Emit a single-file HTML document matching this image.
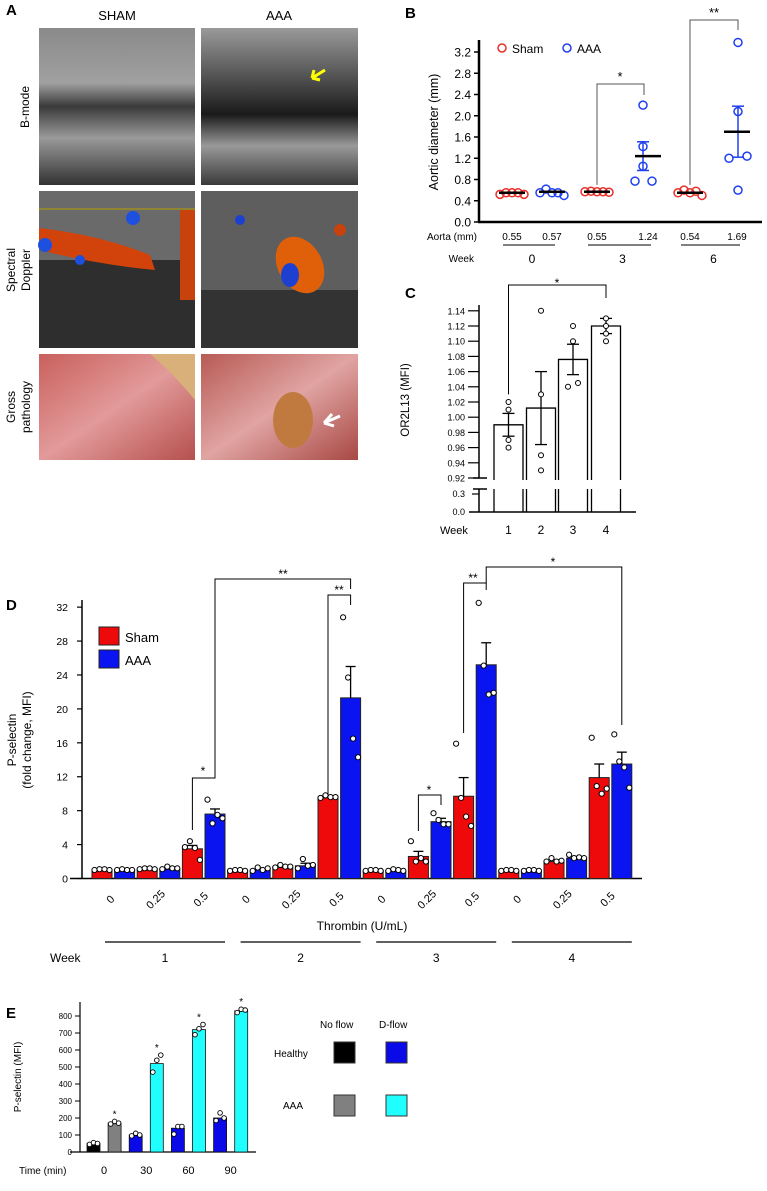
<!DOCTYPE html>
<html><head><meta charset="utf-8"><style>
body{margin:0;background:#fff}
svg{display:block;font-family:"Liberation Sans",Arial,sans-serif}
</style></head><body>
<svg id="fig" width="767" height="1191" viewBox="0 0 767 1191" xmlns="http://www.w3.org/2000/svg">
<defs>
<linearGradient id="bm1" x1="0" y1="0" x2="0" y2="1"><stop offset="0" stop-color="#8a8a8a"/><stop offset="0.35" stop-color="#a0a0a0"/><stop offset="0.5" stop-color="#3a3a3a"/><stop offset="0.7" stop-color="#9a9a9a"/><stop offset="1" stop-color="#333"/></linearGradient>
<linearGradient id="bm2" x1="0" y1="0" x2="0" y2="1"><stop offset="0" stop-color="#9a9a9a"/><stop offset="0.3" stop-color="#555"/><stop offset="0.55" stop-color="#1a1a1a"/><stop offset="0.75" stop-color="#999"/><stop offset="1" stop-color="#3a3a3a"/></linearGradient>
<linearGradient id="gp1" x1="0" y1="0" x2="1" y2="1"><stop offset="0" stop-color="#c9605c"/><stop offset="0.5" stop-color="#e29a9a"/><stop offset="1" stop-color="#b5504e"/></linearGradient>
<linearGradient id="gp2" x1="0" y1="0" x2="1" y2="1"><stop offset="0" stop-color="#b85a55"/><stop offset="0.5" stop-color="#e0a4a2"/><stop offset="1" stop-color="#a84844"/></linearGradient>
</defs>
<g id="panelA">
<text x="6" y="15" font-size="15" font-weight="bold">A</text>
<text x="117" y="20" font-size="13" text-anchor="middle">SHAM</text>
<text x="279" y="20" font-size="13" text-anchor="middle">AAA</text>
<text transform="translate(29,107) rotate(-90)" font-size="12" text-anchor="middle">B-mode</text>
<text transform="translate(15,270) rotate(-90)" font-size="12" text-anchor="middle">Spectral</text>
<text transform="translate(30,270) rotate(-90)" font-size="12" text-anchor="middle">Doppler</text>
<text transform="translate(15,407) rotate(-90)" font-size="12" text-anchor="middle">Gross</text>
<text transform="translate(30,407) rotate(-90)" font-size="12" text-anchor="middle">pathology</text>
<rect x="39" y="28" width="156" height="157" fill="url(#bm1)"/>
<rect x="201" y="28" width="157" height="157" fill="url(#bm2)"/>
<path d="M312 78 L325 70 M312 78 L320 80 M312 78 L314 70" stroke="#ff0" stroke-width="3"/>
<rect x="39" y="191" width="156" height="157" fill="#6a6a6a"/>
<rect x="39" y="260" width="156" height="88" fill="#2e2e2e"/>
<path d="M39 228 Q100 235 150 255 L155 270 Q100 265 39 250 Z" fill="#d2430c"/>
<rect x="180" y="210" width="15" height="90" fill="#c8420e"/>
<circle cx="45" cy="245" r="7" fill="#1e50e0"/><circle cx="133" cy="218" r="7" fill="#1e50e0"/><circle cx="80" cy="260" r="5" fill="#1e50e0"/>
<line x1="39" y1="209" x2="195" y2="209" stroke="#b5a000"/>
<rect x="201" y="191" width="157" height="157" fill="#5e5e5e"/>
<rect x="201" y="290" width="157" height="58" fill="#333"/>
<ellipse cx="300" cy="265" rx="22" ry="30" transform="rotate(-30 300 265)" fill="#e0600a"/>
<ellipse cx="290" cy="275" rx="9" ry="12" fill="#1e40d0"/><circle cx="240" cy="220" r="5" fill="#1e40d0"/><circle cx="340" cy="230" r="6" fill="#c8420e"/>
<rect x="39" y="354" width="156" height="106" fill="url(#gp1)"/>
<path d="M150 354 L195 354 L195 400 Q170 370 150 354Z" fill="#d9b07a"/>
<rect x="201" y="354" width="157" height="106" fill="url(#gp2)"/>
<ellipse cx="293" cy="420" rx="20" ry="28" fill="#c07a40"/>
<path d="M340 416 L324 423 M324 423 L332 414 M324 423 L334 426" stroke="#fff" stroke-width="3"/>
</g>
<g id="gB"></g><g id="gC"></g><g id="gD"></g><g id="gE"></g>
</svg>
<script>
// ---------- Panel B data ----------
const bGroups = ['Sham', 'AAA', 'Sham', 'AAA', 'Sham', 'AAA'];
const bPoints = [[0.52,0.55,0.55,0.55,0.52],[0.55,0.62,0.55,0.55,0.5],[0.57,0.58,0.57,0.57,0.56],[2.2,1.42,1.05,0.77,0.77],[0.55,0.6,0.55,0.58,0.5],[3.38,2.08,1.24,1.2,0.6]];
const bMeans = [0.55, 0.57, 0.57, 1.24, 0.55, 1.70];
const bSem = [0, 0, 0, 0.27, 0, 0.48];
const bAortaLabels = ['0.55','0.57','0.55','1.24','0.54','1.69'];
const bWeeks = ['0','3','6'];
const bTicks = [0,0.4,0.8,1.2,1.6,2.0,2.4,2.8,3.2];
// ---------- Panel C data ----------
const cWeeks = ['1','2','3','4'];
const cMeans = [0.99, 1.012, 1.076, 1.12];
const cSem = [0.015, 0.048, 0.02, 0.01];
const cPoints = [[1.02,1.01,0.97,0.96],[1.14,1.03,0.95,0.93],[1.12,1.10,1.04,1.045],[1.13,1.12,1.11,1.10]];
const cTicks = [0.92,0.94,0.96,0.98,1.00,1.02,1.04,1.06,1.08,1.10,1.12,1.14];
// ---------- Panel D data (week x conc x [sham, aaa]) ----------
const dConc = ['0','0.25','0.5'];
const dWeeks = ['1','2','3','4'];
const dMeans = [1.0,1.0,1.1,1.1,3.5,7.6, 0.9,1.0,1.3,1.5,9.6,21.3, 0.9,0.9,2.6,6.7,9.7,25.2, 0.9,0.9,2.0,2.4,11.9,13.5];
const dSem = [0.1,0.1,0.1,0.1,0.4,0.6, 0.1,0.1,0.1,0.3,0.1,3.7, 0.1,0.1,0.6,0.4,2.2,2.6, 0.1,0.1,0.2,0.2,1.6,1.4];
const dPoints = [[1,1.1,1.1,1],[1,1.1,1,1],[1.1,1.2,1.2,1.1],[1.1,1.4,1.2,1.2],[3.7,4.4,3.6,2.2],[9.3,6.5,7.5,7.1],
[0.9,1,1,0.9],[0.9,1.3,1,1.2],[1.3,1.6,1.4,1.4],[1.2,2.3,1.5,1.6],[9.5,9.8,9.6,9.6],[30.8,23.7,16.5,14.3],
[0.9,1,1,0.9],[0.9,1.1,1,0.9],[4.4,2.0,2.4,2.0],[7.7,6.9,6.4,6.4],[15.9,9.5,7.3,6.2],[32.5,25.1,21.7,21.9],
[0.9,1,1,0.9],[0.9,1,1,0.9],[2.0,2.4,2.0,2.1],[2.8,2.4,2.5,2.4],[16.6,10.9,10.0,10.6],[17.0,13.8,13.1,10.7]];
const dTicks = [0,4,8,12,16,20,24,28,32];
// ---------- Panel E data ----------
const eTimes = ['0','30','60','90'];
const eMeans = [50,170,100,520,140,720,200,830];
const ePoints = [[45,55,50],[165,180,170],[95,110,100],[470,540,570],[105,150,150],[690,725,750],[185,230,200],[820,840,835]];
const eStar = [false,true,false,true,false,true,false,true];
const eTicks = [0,100,200,300,400,500,600,700,800];

const NS='http://www.w3.org/2000/svg';
function mk(parent,tag,attrs,txt){const e=document.createElementNS(NS,tag);for(const k in attrs)e.setAttribute(k,attrs[k]);if(txt!==undefined)e.textContent=txt;parent.appendChild(e);return e;}
function ln(p,x1,y1,x2,y2,w){return mk(p,'line',{x1,y1,x2,y2,stroke:'#000','stroke-width':w||1});}

// ===== Panel B =====
(function(){
const g=document.getElementById('gB');
const yB=v=>222-v*53.125;
const xs=[512,552,597,648,690,737];
const jit=[[-12,-6,0,6,12],[-12,-6,0,6,12],[-12,-6,0,6,12],[-5,-5,-5,-13,4],[-12,-6,0,6,12],[1,1,10,-8,1]];
const ebx=[0,0,0,-5,0,1];
let t=mk(g,'text',{x:405,y:18,'font-size':15,'font-weight':'bold'},'B');


let a=ln(g,479,40,479,222,2.5);
a=ln(g,478,222,762,222,2.5);
bTicks.forEach(v=>{ln(g,474,yB(v),479,yB(v),1.5);
 const tt=mk(g,'text',{x:471,y:yB(v)+4.5,'font-size':12,'text-anchor':'end'},v.toFixed(1));
 });
t=mk(g,'text',{transform:'translate(438,132) rotate(-90)','font-size':12.5,'text-anchor':'middle'},'Aortic diameter (mm)');

bPoints.forEach((pts,i)=>{const col=bGroups[i]==='Sham'?'#e8302a':'#2040f0';
 pts.forEach((v,j)=>{const c=mk(g,'circle',{cx:xs[i]+jit[i][j],cy:yB(v),r:4,fill:'none',stroke:col,'stroke-width':1.5});
  });
 const ex=xs[i]+ebx[i];
 if(bSem[i]>0){ln(g,ex,yB(bMeans[i]+bSem[i]),ex,yB(bMeans[i]-bSem[i]),1.5).setAttribute('stroke',col);
  ln(g,ex-6,yB(bMeans[i]+bSem[i]),ex+6,yB(bMeans[i]+bSem[i]),1.5).setAttribute('stroke',col);
  ln(g,ex-6,yB(bMeans[i]-bSem[i]),ex+6,yB(bMeans[i]-bSem[i]),1.5).setAttribute('stroke',col);}
 const m=ln(g,xs[i]-13,yB(bMeans[i]),xs[i]+13,yB(bMeans[i]),2.5);
 
 const al=mk(g,'text',{x:xs[i],y:240,'font-size':10,'text-anchor':'middle'},bAortaLabels[i]);
 
});
mk(g,'text',{x:477,y:240,'font-size':10,'text-anchor':'end'},'Aorta (mm)');
mk(g,'text',{x:474,y:262,'font-size':10,'text-anchor':'end'},'Week');
bWeeks.forEach((w,k)=>{const x1=xs[2*k]-9,x2=xs[2*k+1]+3;ln(g,x1,245,x2,245,1);
 const wl=mk(g,'text',{x:(xs[2*k]+xs[2*k+1])/2,y:263,'font-size':12,'text-anchor':'middle'},w);
 });
let lg=mk(g,'circle',{cx:502,cy:48,r:4,fill:'none',stroke:'#e8302a','stroke-width':1.5});

mk(g,'text',{x:512,y:53,'font-size':12},'Sham');
lg=mk(g,'circle',{cx:567,cy:48,r:4,fill:'none',stroke:'#2040f0','stroke-width':1.5});

mk(g,'text',{x:577,y:53,'font-size':12},'AAA');
const p=mk(g,'path',{d:`M597 ${yB(0.7)} V84 H644 V95`,fill:'none',stroke:'#555','stroke-width':1});

mk(g,'text',{x:620,y:81,'font-size':13,'text-anchor':'middle'},'*');
mk(g,'path',{d:`M690 ${yB(0.7)} V20 H738 V30`,fill:'none',stroke:'#555','stroke-width':1});
mk(g,'text',{x:714,y:17,'font-size':13,'text-anchor':'middle'},'**');
})();

// ===== Panel C =====
(function(){
const g=document.getElementById('gC');
const yC=v=>478-(v-0.92)/0.02*15.2;
const xs=[508.5,541,573,606];
let t=mk(g,'text',{x:405,y:298,'font-size':15,'font-weight':'bold'},'C');

ln(g,479,305,479,478,1.5);ln(g,479,489,479,512,1.5);
ln(g,469,512,636,512,1.5);
ln(g,473,478,487,478,1.5);ln(g,473,489,487,489,1.5);
cTicks.forEach(v=>{ln(g,468,yC(v),479,yC(v),1.2);
 const tt=mk(g,'text',{x:465,y:yC(v)+3.5,'font-size':9,'text-anchor':'end'},v.toFixed(2));
 });
ln(g,472,494,479,494,1.2);
mk(g,'text',{x:465,y:497,'font-size':9,'text-anchor':'end'},'0.3');
mk(g,'text',{x:465,y:515,'font-size':9,'text-anchor':'end'},'0.0');
t=mk(g,'text',{transform:'translate(409,400) rotate(-90)','font-size':11.5,'text-anchor':'middle'},'OR2L13 (MFI)');

cMeans.forEach((v,i)=>{const x=xs[i]-14.5,w=29,top=yC(v);
 const b=mk(g,'path',{d:`M${x} 480 V${top} H${x+w} V480 M${x} 489 V512 M${x+w} 489 V512`,fill:'none',stroke:'#000','stroke-width':1.3});
 
 ln(g,xs[i],yC(v+cSem[i]),xs[i],yC(v-cSem[i]),1.3);
 ln(g,xs[i]-6,yC(v+cSem[i]),xs[i]+6,yC(v+cSem[i]),1.3);
 ln(g,xs[i]-6,yC(v-cSem[i]),xs[i]+6,yC(v-cSem[i]),1.3);
 cPoints[i].forEach((pv,j)=>{const off=(i===2&&j>=2)?(j===2?-5:5):0;
  const c=mk(g,'circle',{cx:xs[i]+off,cy:yC(pv),r:2.5,fill:'#fff',stroke:'#000','stroke-width':1});
  });
 const wl=mk(g,'text',{x:xs[i],y:534,'font-size':12,'text-anchor':'middle'},cWeeks[i]);
 
});
mk(g,'text',{x:440,y:534,'font-size':11},'Week');
const s=mk(g,'path',{d:`M${xs[0]} ${yC(1.03)} V285 H${xs[3]} V298`,fill:'none',stroke:'#000','stroke-width':1});

mk(g,'text',{x:557,y:287,'font-size':12,'text-anchor':'middle'},'*');
})();

// ===== Panel D =====
(function(){
const g=document.getElementById('gD');
const yD=v=>878.5-v*8.48;
const xD=i=>92+i*22.6;
let t=mk(g,'text',{x:6,y:610,'font-size':15,'font-weight':'bold'},'D');

ln(g,82,600,82,879,1.5);ln(g,70,878.5,642,878.5,1.5);
dTicks.forEach(v=>{ln(g,77,yD(v),82,yD(v),1.2);
 const tt=mk(g,'text',{x:68,y:yD(v)+4,'font-size':10.5,'text-anchor':'end'},String(v));
 });
t=mk(g,'text',{transform:'translate(16,740) rotate(-90)','font-size':12,'text-anchor':'middle'},'P-selectin');

mk(g,'text',{transform:'translate(31,740) rotate(-90)','font-size':12,'text-anchor':'middle'},'(fold change, MFI)');
dMeans.forEach((v,i)=>{const x=xD(i),col=i%2?'#0a14f0':'#ee0a0a',cx=x+10;
 const b=mk(g,'rect',{x,y:yD(v),width:20,height:878.5-yD(v),fill:col,stroke:'#222','stroke-width':1});
 
 const top=yD(v+dSem[i]);ln(g,cx,yD(v),cx,top,1.3);ln(g,cx-5,top,cx+5,top,1.3);
 dPoints[i].forEach((pv,j)=>{const c=mk(g,'circle',{cx:cx-7.5+j*5,cy:yD(pv),r:2.6,fill:'#fff',stroke:'#000','stroke-width':1});
  });
});
for(let w=0;w<4;w++){for(let c=0;c<3;c++){const cx=xD(w*6+c*2)+21;
 const tl=mk(g,'text',{transform:`translate(${cx},902) rotate(-45)`,'font-size':11,'text-anchor':'middle'},dConc[c]);
 }
 const x1=xD(w*6)+13,x2=xD(w*6+5)+20;ln(g,x1,942,x2,942,1.2);
 const wl=mk(g,'text',{x:(x1+x2)/2,y:962,'font-size':12,'text-anchor':'middle'},dWeeks[w]);
 }
t=mk(g,'text',{x:362,y:930,'font-size':12,'text-anchor':'middle'},'Thrombin (U/mL)');

mk(g,'text',{x:50,y:962,'font-size':12},'Week');
let lr=mk(g,'rect',{x:99,y:627,width:20,height:18,fill:'#ee0a0a',stroke:'#222'});

mk(g,'text',{x:125,y:642,'font-size':13},'Sham');
lr=mk(g,'rect',{x:99,y:650,width:20,height:18,fill:'#0a14f0',stroke:'#222'});

mk(g,'text',{x:125,y:665,'font-size':13},'AAA');
const br=(d,name)=>{const p=mk(g,'path',{d,fill:'none',stroke:'#000','stroke-width':1});};
const c=i=>xD(i)+10;
br(`M${c(4)} 830 V778 H${c(5)} V773`,'d-sig-w1');
mk(g,'text',{x:203,y:775,'font-size':12,'text-anchor':'middle'},'*');
br(`M${c(5)} 773 V579 H${c(11)} V589`,'d-sig-w1-w2');
mk(g,'text',{x:283,y:578,'font-size':12,'text-anchor':'middle'},'**');
br(`M${c(10)} 795 V595 H${c(11)} V605`,'d-sig-w2');
mk(g,'text',{x:339,y:594,'font-size':12,'text-anchor':'middle'},'**');
br(`M${c(14)} 831 V795 H${c(15)} V805`,'d-sig-w3-025');
mk(g,'text',{x:429,y:794,'font-size':12,'text-anchor':'middle'},'*');
br(`M${c(16)} 733 V583 H${c(17)} V590`,'d-sig-w3');
mk(g,'text',{x:473,y:582,'font-size':12,'text-anchor':'middle'},'**');
br(`M${c(17)} 583 V567 H${c(23)} V725`,'d-sig-w3-w4');
mk(g,'text',{x:553,y:566,'font-size':12,'text-anchor':'middle'},'*');
})();

// ===== Panel E =====
(function(){
const g=document.getElementById('gE');
const yE=v=>1152-v*0.17;
const xE=i=>87+i*21.1;
const cols=['#000','#808080','#0a0ae8','#20ffff','#0a0ae8','#20ffff','#0a0ae8','#20ffff'];
let t=mk(g,'text',{x:6,y:1018,'font-size':15,'font-weight':'bold'},'E');

ln(g,80,1002,80,1152,1.2);ln(g,70,1152,256,1152,1.2);
eTicks.forEach(v=>{ln(g,75,yE(v),80,yE(v),1);
 const tt=mk(g,'text',{x:72,y:yE(v)+3,'font-size':8,'text-anchor':'end'},String(v));
 });
t=mk(g,'text',{transform:'translate(21,1077) rotate(-90)','font-size':10,'text-anchor':'middle'},'P-selectin (MFI)');

eMeans.forEach((v,i)=>{const x=xE(i),cx=x+6.5;
 const b=mk(g,'rect',{x,y:yE(v),width:13,height:1152-yE(v),fill:cols[i],stroke:'#111','stroke-width':0.8});
 
 ePoints[i].forEach((pv,j)=>{const c=mk(g,'circle',{cx:cx-4+j*4,cy:yE(pv),r:2.3,fill:'#fff',stroke:'#000','stroke-width':0.9});
  });
 if(eStar[i])mk(g,'text',{x:cx,y:yE(Math.max(...ePoints[i]))-4,'font-size':10,'text-anchor':'middle'},'*');
});
eTimes.forEach((tm,k)=>{const tl=mk(g,'text',{x:(xE(2*k)+xE(2*k+1)+13)/2,y:1174,'font-size':11,'text-anchor':'middle'},tm);
 });
mk(g,'text',{x:19,y:1174,'font-size':10},'Time (min)');
mk(g,'text',{x:320,y:1028,'font-size':10},'No flow');
mk(g,'text',{x:379,y:1028,'font-size':10},'D-flow');
mk(g,'text',{x:274,y:1057,'font-size':10},'Healthy');
mk(g,'text',{x:283,y:1109,'font-size':10},'AAA');
const sq=[[334,1042,'#000','legend-healthy-no-flow'],[386,1042,'#0a0ae8','legend-healthy-d-flow'],[334,1095,'#808080','legend-aaa-no-flow'],[386,1095,'#20ffff','legend-aaa-d-flow']];
sq.forEach(s=>{const r=mk(g,'rect',{x:s[0],y:s[1],width:21,height:21,fill:s[2],stroke:'#333','stroke-width':1});
 });
})();
</script>
</body></html>
